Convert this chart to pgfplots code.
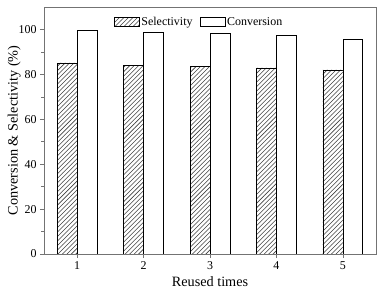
\documentclass[border=0pt]{standalone}
\usepackage{pgfplots}
\pgfplotsset{compat=1.18}
\usepackage{fontspec}
\setmainfont{Liberation Serif}
\usetikzlibrary{patterns,patterns.meta}
\definecolor{framegray}{gray}{0.45}
\tikzdeclarepattern{
  name=myhatch, type=uncolored,
  bounding box={(-.1pt,-.1pt) and (4.6pt,4.6pt)},
  tile size={(4.5pt,4.5pt)},
  code={\draw[line width=0.55pt] (-.1pt,-.1pt) -- (4.6pt,4.6pt);}
}
\begin{document}
\begin{tikzpicture}
\begin{axis}[
  scale only axis,
  width=332bp, height=247bp,
  xmin=0.5, xmax=5.5, ymin=0, ymax=110,
  xtick={1,2,3,4,5},
  ytick={0,20,40,60,80,100},
  minor ytick={10,30,50,70,90},
  tick pos=left,
  tick align=outside,
  major tick length=4bp, minor tick length=2.5bp,
  axis line style={framegray, line width=0.8pt},
  every tick/.style={framegray, line width=0.6pt},
  /pgf/number format/assume math mode=true,
  tick label style={font=\fontsize{12}{13}\selectfont},
  xlabel={Reused times},
  ylabel={Conversion \& Selectivity (\%)},
  label style={font=\fontsize{14.3}{16}\selectfont},
  ylabel style={yshift=-9bp},
  legend style={at={(0.467,0.975)}, anchor=north, draw=none, fill=none,
    legend columns=2, font=\fontsize{12}{13}\selectfont,
    /tikz/every even column/.append style={column sep=5bp}},
  legend image code/.code={\draw[#1] (0bp,-4.5bp) rectangle (25bp,5bp);},
]
\addplot[ybar, bar width=0.3, bar shift=-0.15, draw=black, line width=0.6pt,
  pattern=myhatch, pattern color=black!75]
  coordinates {(1,85.1) (2,84.1) (3,83.5) (4,82.9) (5,82.0)};
\addlegendentry{Selectivity}
\addplot[ybar, bar width=0.3, bar shift=0.15, draw=black, line width=0.6pt, fill=white]
  coordinates {(1,99.6) (2,98.7) (3,98.1) (4,97.5) (5,95.8)};
\addlegendentry{Conversion}
\end{axis}
\path (current axis.south west) ++(-44bp,-40bp);
\path (current axis.north east) ++(4bp,7bp);
\end{tikzpicture}
\end{document}
